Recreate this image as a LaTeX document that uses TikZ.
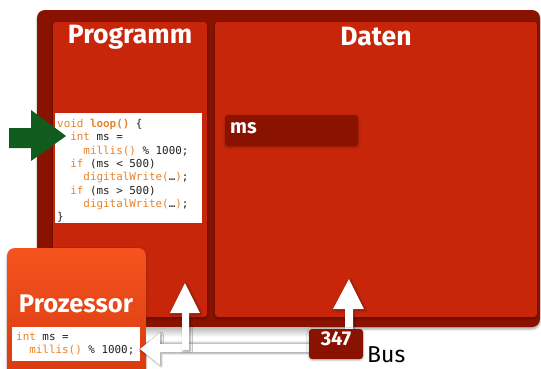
\documentclass[tikz,border=0pt]{standalone}
\usepackage{fontspec}
\setmainfont{Fira Sans}
\setmonofont{DejaVu Sans Mono}
\usetikzlibrary{shadows.blur}

\definecolor{framered}{HTML}{8A1200}
\definecolor{panelred}{HTML}{C8260A}
\definecolor{codekw}{HTML}{E8832A}
\definecolor{codetxt}{HTML}{202020}
\definecolor{arrowgreen}{HTML}{0F5C1E}
\definecolor{cputop}{HTML}{F5541F}
\definecolor{cpubot}{HTML}{D6380E}

\newcommand\kw[1]{\textcolor{codekw}{#1}}

\tikzset{
  panel/.style={fill=panelred, rounded corners=3pt,
    blur shadow={shadow xshift=0pt, shadow yshift=-1.5pt, shadow blur steps=4, shadow opacity=35}},
  title/.style={text=white, font=\bfseries\fontsize{26.5}{30}\selectfont, inner sep=0pt},
  codeline/.style={anchor=base west, inner sep=0pt, text=codetxt,
    font=\ttfamily\fontsize{10.9}{13}\selectfont},
  codebox/.style={fill=white},
  valbox/.style={fill=framered, rounded corners=3pt,
    blur shadow={shadow xshift=0pt, shadow yshift=-1pt, shadow blur steps=3, shadow opacity=30}},
  vallabel/.style={text=white, font=\bfseries\fontsize{20}{23}\selectfont, inner sep=0pt},
  busarrow/.style={fill=white,
    blur shadow={shadow xshift=1.2pt, shadow yshift=-1.2pt, shadow blur steps=4, shadow opacity=45}},
}

\begin{document}
\begin{tikzpicture}[x=1pt, y=-1pt]
  \useasboundingbox (0,0) rectangle (541,368);
  \clip (0,0) rectangle (541,368);

  % memory frame with its two areas
  \path[fill=framered, rounded corners=8pt,
    blur shadow={shadow xshift=0pt, shadow yshift=-2pt, shadow blur steps=5, shadow opacity=35}]
    (37,10) rectangle (540,327);
  \path[panel] (53,22) rectangle (207,317);
  \path[panel] (215,22) rectangle (537,317);
  \node[title] (tprog) at (130,37) {Programm};
  \node[title] (tdata) at (376,37) {Daten};

  % program listing
  \path[codebox] (55,113) rectangle (202,223);
  \foreach \txt [count=\i] in {
      {\kw{void} \kw{\bfseries loop()} \{},
      {\ \ \kw{int} ms =},
      {\ \ \ \ \kw{millis()} \% 1000;},
      {\ \ \kw{if} (ms < 500)},
      {\ \ \ \ \kw{digitalWrite(}…\kw{)};},
      {\ \ \kw{if} (ms > 500)},
      {\ \ \ \ \kw{digitalWrite(}…\kw{)};},
      {\}}}
    \node[codeline] (code\i) at (57,{127.5+13.3*(\i-1)}) {\txt};

  % program counter
  \path[fill=arrowgreen] (9,128) -- (31,128) -- (31,110) -- (66,136)
    -- (31,161) -- (31,148) -- (9,148) -- cycle;

  % variable cell
  \path[valbox] (225,115) rectangle (358,146);
  \node[vallabel, anchor=west] (msname) at (230,128) {ms};

  % processor
  \path[top color=cputop, bottom color=cpubot, rounded corners=8pt,
    blur shadow={shadow xshift=0pt, shadow yshift=-1.5pt, shadow blur steps=4, shadow opacity=30}]
    (7,248) rectangle (146,385);
  \node[title, font=\bfseries\fontsize{25.5}{29}\selectfont] (cpu) at (76,304) {Prozessor};
  \path[codebox] (12,327) rectangle (140,361);
  \node[codeline] (reg1) at (16,340) {\kw{int} ms =};
  \node[codeline] (reg2) at (16,353.5) {\ \ \kw{millis()} \% 1000;};

  % bus wire
  \path[top color=gray!55, bottom color=white] (146,327) rectangle (309,337);
  \path[fill=white] (146,337) rectangle (309,340);
  \path[top color=white, bottom color=gray!55] (146,340) rectangle (309,344);

  % value travelling to the processor
  \path[busarrow] (309,344) -- (160,344) -- (160,333) -- (140,349)
    -- (160,365) -- (160,352) -- (309,352) -- cycle;
  % fetch into the program area
  \path[busarrow] (182,350) -- (182,313) -- (170,313) -- (185,283)
    -- (200,313) -- (189,313) -- (189,350) -- cycle;
  % value read from the data area
  \path[busarrow] (345,330) -- (345,309) -- (333,309) -- (349,279)
    -- (364,309) -- (353,309) -- (353,330) -- cycle;

  \path[valbox] (309,329) rectangle (363,359);
  \node[vallabel] (val) at (336,339) {347};
  \node[anchor=west, inner sep=0pt, font=\fontsize{23}{26}\selectfont] (bus) at (367,355) {Bus};
\end{tikzpicture}
\end{document}
